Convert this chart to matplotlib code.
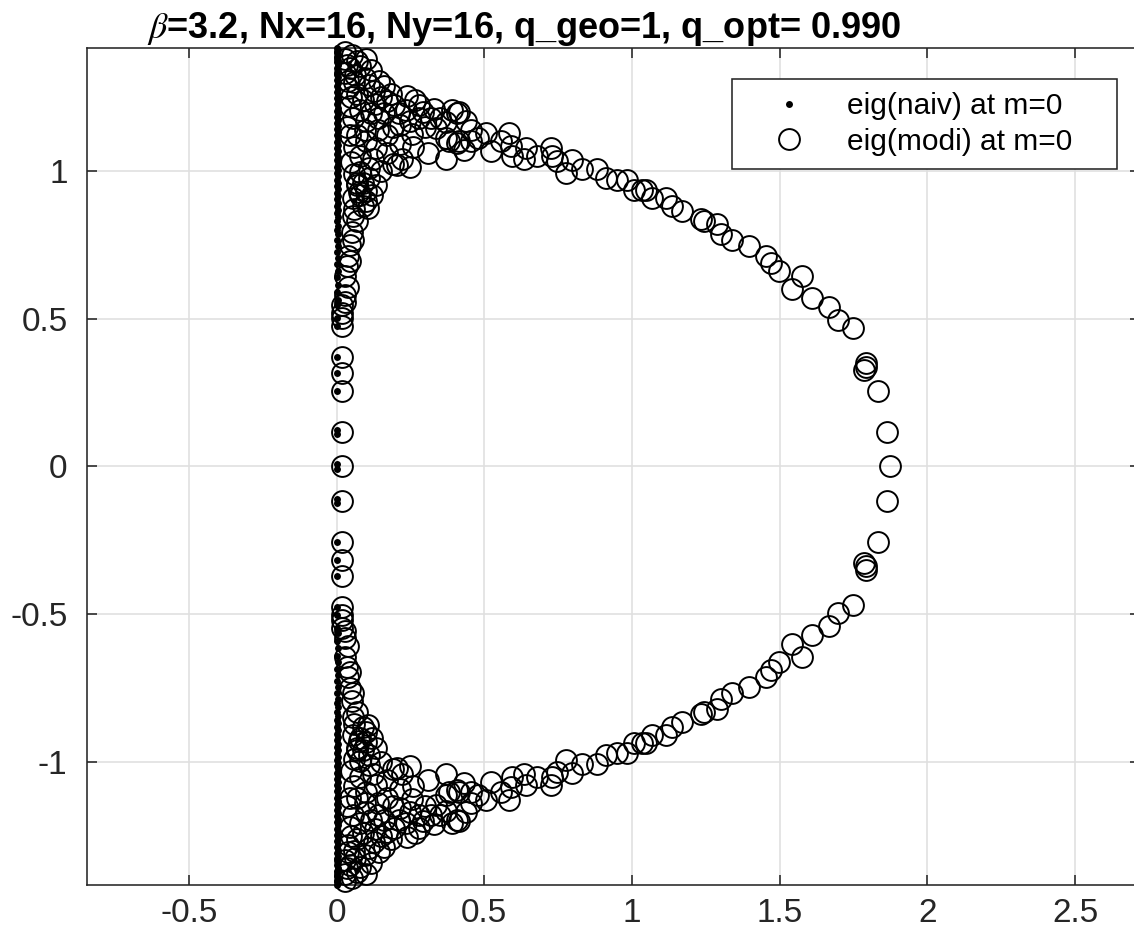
import matplotlib
matplotlib.use("Agg")
import matplotlib.pyplot as plt
import numpy as np

# ---------------------------------------------------------------
# Spectrum data: upper half-plane eigenvalues (re, im); the lower
# half holds the complex-conjugate partners.  Real eigenvalues are
# listed separately so they are drawn only once.
# ---------------------------------------------------------------
modi_upper = [
    # dense cluster near the top of the imaginary axis
    (0.027, 1.404), (0.051, 1.391), (0.068, 1.371), (0.078, 1.354), (0.044, 1.347),
    (0.061, 1.323), (0.037, 1.303), (0.095, 1.313), (0.145, 1.306), (0.162, 1.289),
    (0.128, 1.269), (0.068, 1.262), (0.088, 1.239), (0.169, 1.235), (0.196, 1.222),
    (0.240, 1.252), (0.264, 1.239), (0.280, 1.222), (0.291, 1.201), (0.236, 1.205),
    (0.078, 1.205), (0.118, 1.195), (0.054, 1.178), (0.101, 1.168), (0.139, 1.178),
    (0.169, 1.120), (0.213, 1.154), (0.247, 1.168), (0.280, 1.178), (0.321, 1.178),
    (0.338, 1.144), (0.392, 1.205), (0.416, 1.201), (0.439, 1.168), (0.372, 1.110),
    (0.416, 1.100), (0.456, 1.100), (0.372, 1.042), (0.068, 1.120), (0.101, 1.100),
    (0.135, 1.076), (0.078, 1.052), (0.122, 1.042), (0.203, 1.019), (0.247, 1.015),
    (0.223, 1.042), (0.078, 0.998), (0.111, 0.975), (0.068, 0.951), (0.101, 0.931),
    (0.054, 0.907), (0.101, 0.897), (0.409, 1.195), (0.372, 1.167), (0.382, 1.103),
    (0.409, 1.093), (0.027, 1.380), (0.034, 1.360), (0.030, 1.330), (0.040, 1.280),
    (0.050, 1.250), (0.045, 1.220), (0.035, 1.150), (0.045, 1.120), (0.060, 1.080),
    (0.050, 1.030), (0.060, 0.990), (0.070, 0.960), (0.075, 0.930), (0.078, 0.917),
    (0.135, 0.951), (0.190, 1.025),
    (0.100, 1.380), (0.115, 1.340), (0.060, 1.300), (0.110, 1.290), (0.150, 1.250),
    (0.130, 1.225), (0.185, 1.260), (0.210, 1.195), (0.160, 1.195), (0.095, 1.140),
    (0.140, 1.140), (0.190, 1.150), (0.255, 1.125), (0.300, 1.150), (0.330, 1.210),
    (0.350, 1.180), (0.260, 1.080), (0.215, 1.090), (0.170, 1.060), (0.110, 1.010),
    (0.150, 1.000), (0.090, 0.960), (0.120, 0.920), (0.060, 0.870), (0.310, 1.060),
    (0.455, 1.140), (0.480, 1.110), (0.430, 1.070),
    # upper arc
    (0.507, 1.127), (0.524, 1.066), (0.557, 1.103), (0.584, 1.127), (0.591, 1.086),
    (0.595, 1.049), (0.642, 1.076), (0.635, 1.042), (0.679, 1.049), (0.726, 1.076),
    (0.730, 1.049), (0.747, 1.032), (0.777, 0.992), (0.797, 1.036), (0.831, 1.008),
    (0.882, 1.008), (0.912, 0.975), (0.949, 0.968), (0.983, 0.968), (1.007, 0.934),
    (1.034, 0.934), (1.047, 0.934), (1.068, 0.907), (1.115, 0.907), (1.135, 0.880),
    (1.169, 0.863), (1.233, 0.839), (1.243, 0.829), (1.287, 0.822), (1.301, 0.788),
    (1.338, 0.765), (1.395, 0.745), (1.453, 0.711), (1.470, 0.687), (1.497, 0.660),
    (1.574, 0.643), (1.541, 0.602), (1.608, 0.569), (1.666, 0.541), (1.699, 0.494),
    (1.750, 0.467), (1.791, 0.338), (1.784, 0.325), (1.794, 0.349), (1.834, 0.254),
    (1.865, 0.118),
    # thin arm along the imaginary axis
    (0.088, 0.883), (0.105, 0.873), (0.054, 0.849), (0.068, 0.832), (0.051, 0.795),
    (0.054, 0.765), (0.044, 0.748), (0.037, 0.711), (0.044, 0.694), (0.034, 0.677),
    (0.027, 0.646), (0.037, 0.609), (0.027, 0.579), (0.027, 0.558), (0.020, 0.545),
    (0.020, 0.518), (0.020, 0.501), (0.017, 0.477), (0.020, 0.372), (0.020, 0.315),
    (0.017, 0.257), (0.017, 0.118),
]
modi_real = [0.017, 1.875]

naiv_upper = [
    (0.003, 0.008), (0.002, 0.110), (0.002, 0.125), (0.003, 0.257), (0.003, 0.315),
    (0.003, 0.369), (0.003, 0.477), (0.003, 0.501), (0.003, 0.545), (0.004, 0.565),
    (0.002, 0.590), (0.005, 0.615), (0.003, 0.640), (0.004, 0.660), (0.002, 0.685),
    (0.004, 0.705), (0.003, 0.725), (0.005, 0.745), (0.002, 0.765), (0.004, 0.785),
    (0.003, 0.800), (0.005, 0.815), (0.002, 0.830), (0.004, 0.845), (0.003, 0.857),
    (0.005, 0.868), (0.002, 0.880), (0.004, 0.893), (0.003, 0.905), (0.005, 0.915),
    (0.002, 0.926), (0.004, 0.938), (0.003, 0.950), (0.006, 0.960), (0.002, 0.971),
    (0.004, 0.983), (0.003, 0.993), (0.005, 1.004), (0.002, 1.015), (0.004, 1.025),
    (0.003, 1.036), (0.006, 1.046), (0.002, 1.057), (0.004, 1.068), (0.003, 1.078),
    (0.005, 1.089), (0.002, 1.099), (0.004, 1.110), (0.003, 1.120), (0.006, 1.131),
    (0.002, 1.141), (0.004, 1.152), (0.003, 1.162), (0.005, 1.172), (0.002, 1.183),
    (0.004, 1.193), (0.003, 1.204), (0.006, 1.214), (0.002, 1.225), (0.004, 1.235),
    (0.003, 1.246), (0.005, 1.256), (0.002, 1.266), (0.004, 1.277), (0.003, 1.287),
    (0.006, 1.297), (0.002, 1.308), (0.004, 1.318), (0.003, 1.328), (0.005, 1.338),
    (0.002, 1.348), (0.004, 1.358), (0.003, 1.368), (0.005, 1.377), (0.002, 1.386),
    (0.004, 1.395), (0.003, 1.403), (0.005, 1.410), (0.002, 1.415),
]

x_ticks = [-0.5, 0, 0.5, 1, 1.5, 2, 2.5]
x_ticklabels = ["-0.5", "0", "0.5", "1", "1.5", "2", "2.5"]
y_ticks = [-1, -0.5, 0, 0.5, 1]
y_ticklabels = ["-1", "-0.5", "0", "0.5", "1"]

title_text = r"$\beta$=3.2, Nx=16, Ny=16, q_geo=1, q_opt= 0.990"
legend_labels = ["eig(naiv) at m=0", "eig(modi) at m=0"]


def full_spectrum(upper, real=()):
    re = [p[0] for p in upper]
    im = [p[1] for p in upper]
    re_all = re + re + list(real)
    im_all = im + [-v for v in im] + [0.0] * len(real)
    return np.array(re_all), np.array(im_all)


naiv_re, naiv_im = full_spectrum(naiv_upper)
modi_re, modi_im = full_spectrum(modi_upper, modi_real)

plt.rcParams["font.family"] = ["Liberation Sans", "DejaVu Sans"]
plt.rcParams["mathtext.fontset"] = "stix"

W, H = 1134, 933
fig = plt.figure(figsize=(W / 100, H / 100), dpi=100)
ax_l, ax_r, ax_t, ax_b = 87, 1140, 48, 885
ax = fig.add_axes([ax_l / W, 1 - ax_b / H, (ax_r - ax_l) / W, (ax_b - ax_t) / H])

dark = "#262626"
ax.plot(naiv_re, naiv_im, linestyle="none", marker="o", ms=5.0, mfc="k", mec="k",
        mew=0, clip_on=False, zorder=3, label=legend_labels[0])
ax.plot(modi_re, modi_im, linestyle="none", marker="o", ms=15.0, mfc="none", mec="k",
        mew=1.4, clip_on=False, zorder=4, label=legend_labels[1])

ax.set_xlim(-0.845, 2.72)
ax.set_ylim(-1.416, 1.416)
ax.set_xticks(x_ticks)
ax.set_xticklabels(x_ticklabels)
ax.set_yticks(y_ticks)
ax.set_yticklabels(y_ticklabels)

ax.grid(True, color="#dfdfdf", lw=1.15, zorder=0)
ax.set_axisbelow(True)
for s in ax.spines.values():
    s.set_color(dark)
    s.set_linewidth(1.15)
ax.tick_params(direction="in", length=7, width=1.15, top=True, right=True,
               colors=dark, labelsize=24)
ax.tick_params(axis="y", pad=14)
ax.tick_params(axis="x", pad=9)

fig.text(147 / W, 1 - 38 / H, title_text, ha="left", va="baseline",
         fontsize=26, fontweight="bold", color="k")

x0 = (732 - ax_l) / (ax_r - ax_l)
x1 = (1117 - ax_l) / (ax_r - ax_l)
y1 = (ax_b - 79) / (ax_b - ax_t)
y0 = (ax_b - 163) / (ax_b - ax_t)
leg = ax.legend(loc="upper left", bbox_to_anchor=(x0, y0, x1 - x0, y1 - y0),
                mode="expand", borderaxespad=0, fontsize=21.5, frameon=True,
                fancybox=False, framealpha=1, edgecolor=dark, borderpad=0.45,
                handlelength=2.9, handletextpad=0.5, labelspacing=0.25,
                numpoints=1)
leg.get_frame().set_linewidth(1.15)
for t in leg.get_texts():
    t.set_color("k")

fig.savefig("out.png", dpi=100, facecolor="white")
